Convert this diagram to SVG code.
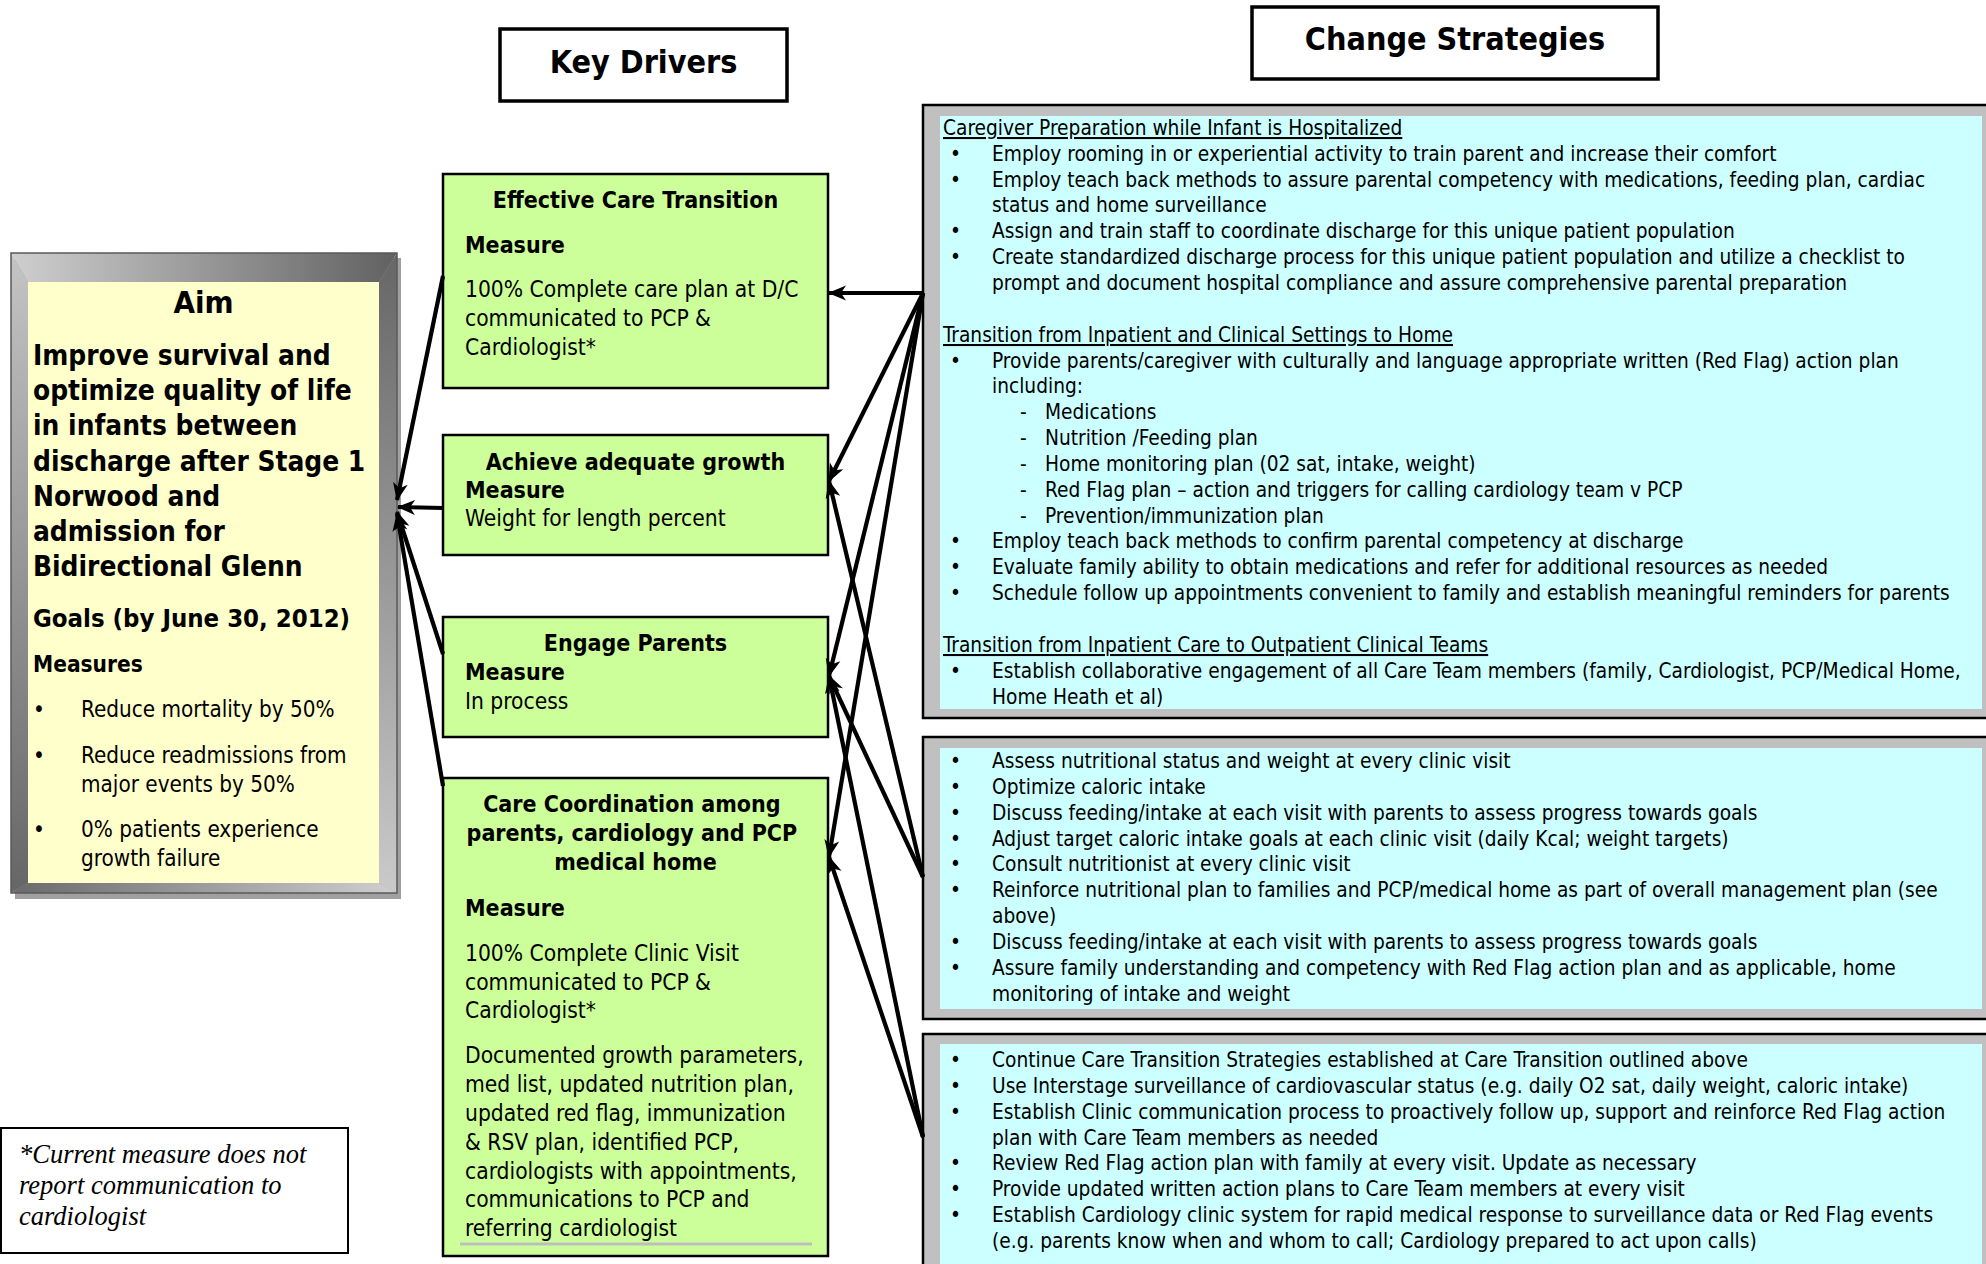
<svg xmlns="http://www.w3.org/2000/svg" width="1986" height="1264" viewBox="0 0 1986 1264">
  <style>
    .cond { font-family: "DejaVu Sans Condensed", "DejaVu Sans", sans-serif; font-stretch: condensed; }
    .b { font-weight: bold; }
    .title { font-size: 32px; font-weight: bold; }
    .aimhead { font-size: 31px; font-weight: bold; }
    .aimbody { font-size: 27.8px; font-weight: bold; }
    .aimtxt { font-size: 22.3px; }
    .drv { font-size: 22.6px; }
    .drvb { font-size: 23px; font-weight: bold; }
    .strat { font-size: 20.7px; }
    .u { text-decoration: underline; }
    .note { font-family: "Liberation Serif", serif; font-style: italic; font-size: 26.5px; }
    .drvbox { fill: #ccff99; stroke: #000; stroke-width: 2.5; }
    .hdrbox { fill: #fff; stroke: #000; stroke-width: 3.5; }
    .pnl { fill: #c0c0c0; stroke: #000; stroke-width: 2.5; }
    .pnlin { fill: #ccffff; }
    .conn { fill: none; stroke: #000; stroke-width: 4.2; marker-end: url(#ah); }
  </style>
  <defs>
    <marker id="ah" markerUnits="userSpaceOnUse" viewBox="-19 -9 21 18" refX="0" refY="0" markerWidth="21" markerHeight="18" orient="auto">
      <path d="M1,0 L-17,-7.5 L-12,0 L-17,7.5 Z" fill="#000"/>
    </marker>
    <linearGradient id="gTop" x1="0" y1="0" x2="1" y2="0">
      <stop offset="0" stop-color="#cfcfcf"/>
      <stop offset="1" stop-color="#616161"/>
    </linearGradient>
    <linearGradient id="gBot" x1="0" y1="0" x2="1" y2="0">
      <stop offset="0" stop-color="#6a6a6a"/>
      <stop offset="1" stop-color="#cfcfcf"/>
    </linearGradient>
    <linearGradient id="gLeft" x1="0" y1="0" x2="0" y2="1">
      <stop offset="0" stop-color="#c4c4c4"/>
      <stop offset="1" stop-color="#666"/>
    </linearGradient>
    <linearGradient id="gRight" x1="0" y1="0" x2="0" y2="1">
      <stop offset="0" stop-color="#666"/>
      <stop offset="1" stop-color="#cacaca"/>
    </linearGradient>
  </defs>

  <rect width="1986" height="1264" fill="#fff"/>

  <!-- column headings -->
  <g id="hdr-key-drivers">
    <rect class="hdrbox" x="500" y="29" width="287" height="72"/>
    <text class="cond title" x="643.5" y="73" text-anchor="middle">Key Drivers</text>
  </g>
  <g id="hdr-change-strategies">
    <rect class="hdrbox" x="1252" y="7" width="406" height="72"/>
    <text class="cond title" x="1455" y="50" text-anchor="middle">Change Strategies</text>
  </g>

  <!-- aim: bevelled grey frame around a pale yellow card -->
  <g id="aim">
    <rect x="15" y="258" width="386" height="641" fill="#a0a0a0"/>
    <polygon points="11,253 397,253 379,282 28,282" fill="url(#gTop)"/>
    <polygon points="11,893 28,883 379,883 397,893" fill="url(#gBot)"/>
    <polygon points="11,253 28,282 28,883 11,893" fill="url(#gLeft)"/>
    <polygon points="397,253 397,893 379,883 379,282" fill="url(#gRight)"/>
    <rect x="11" y="253" width="386" height="640" fill="none" stroke="#5a5a5a" stroke-width="1.5"/>
    <rect x="28" y="282" width="351" height="601" fill="#ffffcc"/>
    <text class="cond aimhead" x="203.5" y="313" text-anchor="middle">Aim</text>
    <text class="cond aimbody">
      <tspan x="33" y="365">Improve survival and</tspan>
      <tspan x="33" y="400">optimize quality of life</tspan>
      <tspan x="33" y="435">in infants between</tspan>
      <tspan x="33" y="471">discharge after Stage 1</tspan>
      <tspan x="33" y="506">Norwood and</tspan>
      <tspan x="33" y="541">admission for</tspan>
      <tspan x="33" y="576">Bidirectional Glenn</tspan>
    </text>
    <text class="cond b" x="33" y="627" font-size="25.5">Goals (by June 30, 2012)</text>
    <text class="cond b" x="33" y="672" font-size="22.5">Measures</text>
    <text class="cond aimtxt">
      <tspan x="33" y="717">•</tspan><tspan x="81" y="717">Reduce mortality by 50%</tspan>
      <tspan x="33" y="763">•</tspan><tspan x="81" y="763">Reduce readmissions from</tspan>
      <tspan x="81" y="792">major events by 50%</tspan>
      <tspan x="33" y="837">•</tspan><tspan x="81" y="837">0% patients experience</tspan>
      <tspan x="81" y="866">growth failure</tspan>
    </text>
  </g>

  <!-- key drivers -->
  <g id="drv-care-transition">
    <rect class="drvbox" x="443" y="174" width="385" height="214"/>
    <text class="cond drvb" x="635.5" y="208" text-anchor="middle">Effective Care Transition</text>
    <text class="cond drvb" x="465" y="253">Measure</text>
    <text class="cond drv">
      <tspan x="465" y="297">100% Complete care plan at D/C</tspan>
      <tspan x="465" y="326">communicated to PCP &amp;</tspan>
      <tspan x="465" y="355">Cardiologist*</tspan>
    </text>
  </g>
  <g id="drv-growth">
    <rect class="drvbox" x="443" y="435" width="385" height="120"/>
    <text class="cond drvb" x="635.5" y="470" text-anchor="middle">Achieve adequate growth</text>
    <text class="cond drvb" x="465" y="498">Measure</text>
    <text class="cond drv" x="465" y="526">Weight for length percent</text>
  </g>
  <g id="drv-engage-parents">
    <rect class="drvbox" x="443" y="617" width="385" height="120"/>
    <text class="cond drvb" x="635.5" y="651" text-anchor="middle">Engage Parents</text>
    <text class="cond drvb" x="465" y="680">Measure</text>
    <text class="cond drv" x="465" y="709">In process</text>
  </g>
  <g id="drv-care-coordination">
    <rect class="drvbox" x="443" y="778" width="385" height="478"/>
    <text class="cond drvb" text-anchor="middle">
      <tspan x="635.5" y="812">Care Coordination among</tspan>
      <tspan x="635.5" y="841">parents, cardiology and PCP</tspan>
      <tspan x="635.5" y="870">medical home</tspan>
    </text>
    <text class="cond drvb" x="465" y="916">Measure</text>
    <text class="cond drv">
      <tspan x="465" y="961">100% Complete Clinic Visit</tspan>
      <tspan x="465" y="990">communicated to PCP &amp;</tspan>
      <tspan x="465" y="1018">Cardiologist*</tspan>
      <tspan x="465" y="1063">Documented growth parameters,</tspan>
      <tspan x="465" y="1092">med list, updated nutrition plan,</tspan>
      <tspan x="465" y="1121">updated red flag, immunization</tspan>
      <tspan x="465" y="1150">&amp; RSV plan, identified PCP,</tspan>
      <tspan x="465" y="1179">cardiologists with appointments,</tspan>
      <tspan x="465" y="1207">communications to PCP and</tspan>
      <tspan x="465" y="1236">referring cardiologist</tspan>
    </text>
    <line x1="460" y1="1244" x2="812" y2="1244" stroke="#bdbdbd" stroke-width="3"/>
  </g>

  <!-- change strategy panels -->
  <g id="strat-transition">
    <rect class="pnl" x="923" y="105" width="1075" height="613"/>
    <rect class="pnlin" x="940" y="116" width="1042" height="593"/>
    <text class="cond strat">
      <tspan class="u" x="943" y="135">Caregiver Preparation while Infant is Hospitalized</tspan>
      <tspan x="950" y="161">•</tspan><tspan x="992" y="161">Employ rooming in or experiential activity to train parent and increase their comfort</tspan>
      <tspan x="950" y="187">•</tspan><tspan x="992" y="187">Employ teach back methods to assure parental competency with medications, feeding plan, cardiac</tspan>
      <tspan x="992" y="212">status and home surveillance</tspan>
      <tspan x="950" y="238">•</tspan><tspan x="992" y="238">Assign and train staff to coordinate discharge for this unique patient population</tspan>
      <tspan x="950" y="264">•</tspan><tspan x="992" y="264">Create standardized discharge process for this unique patient population and utilize a checklist to</tspan>
      <tspan x="992" y="290">prompt and document hospital compliance and assure comprehensive parental preparation</tspan>
      <tspan class="u" x="943" y="342">Transition from Inpatient and Clinical Settings to Home</tspan>
      <tspan x="950" y="368">•</tspan><tspan x="992" y="368">Provide parents/caregiver with culturally and language appropriate written (Red Flag) action plan</tspan>
      <tspan x="992" y="393">including:</tspan>
      <tspan x="1020" y="419">-</tspan><tspan x="1045" y="419">Medications</tspan>
      <tspan x="1020" y="445">-</tspan><tspan x="1045" y="445">Nutrition /Feeding plan</tspan>
      <tspan x="1020" y="471">-</tspan><tspan x="1045" y="471">Home monitoring plan (02 sat, intake, weight)</tspan>
      <tspan x="1020" y="497">-</tspan><tspan x="1045" y="497">Red Flag plan – action and triggers for calling cardiology team v PCP</tspan>
      <tspan x="1020" y="523">-</tspan><tspan x="1045" y="523">Prevention/immunization plan</tspan>
      <tspan x="950" y="548">•</tspan><tspan x="992" y="548">Employ teach back methods to confirm parental competency at discharge</tspan>
      <tspan x="950" y="574">•</tspan><tspan x="992" y="574">Evaluate family ability to obtain medications and refer for additional resources as needed</tspan>
      <tspan x="950" y="600">•</tspan><tspan x="992" y="600">Schedule follow up appointments convenient to family and establish meaningful reminders for parents</tspan>
      <tspan class="u" x="943" y="652">Transition from Inpatient Care to Outpatient Clinical Teams</tspan>
      <tspan x="950" y="678">•</tspan><tspan x="992" y="678">Establish collaborative engagement of all Care Team members (family, Cardiologist, PCP/Medical Home,</tspan>
      <tspan x="992" y="704">Home Heath et al)</tspan>
    </text>
  </g>
  <g id="strat-nutrition">
    <rect class="pnl" x="923" y="737" width="1075" height="282"/>
    <rect class="pnlin" x="940" y="748" width="1042" height="261"/>
    <text class="cond strat">
      <tspan x="950" y="768">•</tspan><tspan x="992" y="768">Assess nutritional status and weight at every clinic visit</tspan>
      <tspan x="950" y="794">•</tspan><tspan x="992" y="794">Optimize caloric intake</tspan>
      <tspan x="950" y="820">•</tspan><tspan x="992" y="820">Discuss feeding/intake at each visit with parents to assess progress towards goals</tspan>
      <tspan x="950" y="846">•</tspan><tspan x="992" y="846">Adjust target caloric intake goals at each clinic visit (daily Kcal; weight targets)</tspan>
      <tspan x="950" y="871">•</tspan><tspan x="992" y="871">Consult nutritionist at every clinic visit</tspan>
      <tspan x="950" y="897">•</tspan><tspan x="992" y="897">Reinforce nutritional plan to families and PCP/medical home as part of overall management plan (see</tspan>
      <tspan x="992" y="923">above)</tspan>
      <tspan x="950" y="949">•</tspan><tspan x="992" y="949">Discuss feeding/intake at each visit with parents to assess progress towards goals</tspan>
      <tspan x="950" y="975">•</tspan><tspan x="992" y="975">Assure family understanding and competency with Red Flag action plan and as applicable, home</tspan>
      <tspan x="992" y="1001">monitoring of intake and weight</tspan>
    </text>
  </g>
  <g id="strat-surveillance">
    <rect class="pnl" x="923" y="1034" width="1075" height="245"/>
    <rect class="pnlin" x="940" y="1044" width="1042" height="230"/>
    <text class="cond strat">
      <tspan x="950" y="1067">•</tspan><tspan x="992" y="1067">Continue Care Transition Strategies established at Care Transition outlined above</tspan>
      <tspan x="950" y="1093">•</tspan><tspan x="992" y="1093">Use Interstage surveillance of cardiovascular status (e.g. daily O2 sat, daily weight, caloric intake)</tspan>
      <tspan x="950" y="1119">•</tspan><tspan x="992" y="1119">Establish Clinic communication process to proactively follow up, support and reinforce Red Flag action</tspan>
      <tspan x="992" y="1145">plan with Care Team members as needed</tspan>
      <tspan x="950" y="1170">•</tspan><tspan x="992" y="1170">Review Red Flag action plan with family at every visit. Update as necessary</tspan>
      <tspan x="950" y="1196">•</tspan><tspan x="992" y="1196">Provide updated written action plans to Care Team members at every visit</tspan>
      <tspan x="950" y="1222">•</tspan><tspan x="992" y="1222">Establish Cardiology clinic system for rapid medical response to surveillance data or Red Flag events</tspan>
      <tspan x="992" y="1248">(e.g. parents know when and whom to call; Cardiology prepared to act upon calls)</tspan>
    </text>
  </g>

  <!-- footnote -->
  <g id="footnote">
    <rect x="1" y="1128" width="347" height="125" fill="#fff" stroke="#000" stroke-width="2"/>
    <text class="note">
      <tspan x="19" y="1163">*Current measure does not</tspan>
      <tspan x="19" y="1194">report communication to</tspan>
      <tspan x="19" y="1225">cardiologist</tspan>
    </text>
  </g>

  <!-- connectors -->
  <g id="connectors">
    <line class="conn" x1="443" y1="276" x2="397" y2="500"/>
    <line class="conn" x1="443" y1="508" x2="398" y2="507"/>
    <line class="conn" x1="443" y1="654" x2="397" y2="512"/>
    <line class="conn" x1="443" y1="786" x2="397" y2="514"/>

    <line class="conn" x1="923" y1="293" x2="829" y2="293"/>
    <line class="conn" x1="923" y1="293" x2="829" y2="481"/>
    <line class="conn" x1="923" y1="293" x2="829" y2="676"/>
    <line class="conn" x1="923" y1="293" x2="829" y2="857"/>
    <line class="conn" x1="923" y1="877" x2="829" y2="481"/>
    <line class="conn" x1="923" y1="877" x2="829" y2="676"/>
    <line class="conn" x1="923" y1="1137" x2="829" y2="676"/>
    <line class="conn" x1="923" y1="1137" x2="829" y2="857"/>
  </g>
</svg>
